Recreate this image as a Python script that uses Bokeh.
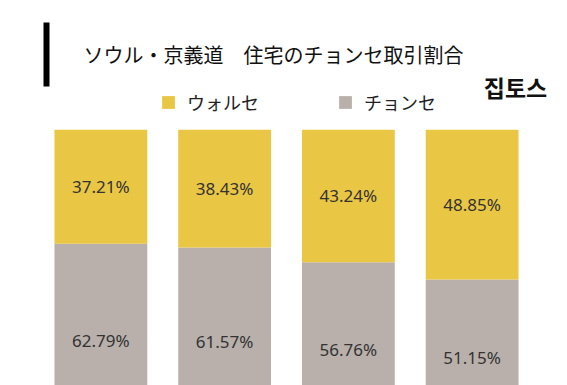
from bokeh.plotting import figure
from bokeh.layouts import column
from bokeh.models import ColumnDataSource, Range1d, FactorRange, Legend, LegendItem, Label
from bokeh.core.properties import value
from bokeh.embed import file_html
from bokeh.resources import INLINE

# ---- data ----
periods = ["1", "2", "3", "4"]
wolse = [37.21, 38.43, 43.24, 48.85]      # ウォルセ share, %
jeonse = [62.79, 61.57, 56.76, 51.15]     # チョンセ share, %
series_names = ["ウォルセ", "チョンセ"]
title_text = "ソウル・京義道　住宅のチョンセ取引割合"
logo_text = "집토스"

YELLOW = "#EAC645"
GRAY = "#B9B0AB"
W = 567
HEAD_H = 129
BAR_H = 385 - HEAD_H
ML, MR = 5, 0

# ---- header ----
hf = figure(width=W, height=HEAD_H, x_range=Range1d(ML, W - MR), y_range=Range1d(HEAD_H, 0),
            x_axis_type=None, y_axis_type=None, toolbar_location=None,
            output_backend="svg", min_border_left=ML, min_border_right=MR,
            min_border_top=0, min_border_bottom=0, outline_line_color=None)
hf.grid.visible = False
hf.quad(left=[43], right=[49], top=[22], bottom=[86], fill_color="black", line_color=None)
hf.text(x=[83], y=[54], text=[title_text], text_font=value("Noto Sans CJK JP"),
        text_font_size="20px", text_baseline="middle", text_align="left", text_color="#111111")
hf.add_layout(Label(x=515, y=86, text=logo_text, text_font="Noto Sans CJK KR",
                    text_font_size="23px", text_font_style="bold", text_baseline="middle",
                    text_align="center", text_color="#111111"))
# legend swatches (kept outside the visible area; only their legend glyphs show)
r_w = hf.quad(left=[-100], right=[-90], top=[-100], bottom=[-90], fill_color=YELLOW, line_color=None)
r_j = hf.quad(left=[-100], right=[-90], top=[-100], bottom=[-90], fill_color=GRAY, line_color=None)
legend = Legend(items=[LegendItem(label=series_names[0], renderers=[r_w]),
                       LegendItem(label=series_names[1], renderers=[r_j])],
                orientation="horizontal", location=(155, 14),
                glyph_width=16, glyph_height=16, label_standoff=11, spacing=78,
                padding=0, margin=0, border_line_color=None, background_fill_alpha=0,
                label_text_font="Noto Sans CJK JP", label_text_font_size="18px",
                label_text_color="#222222")
hf.add_layout(legend, "center")

# ---- bars ----
src = ColumnDataSource(dict(
    periods=periods, wolse=wolse, jeonse=jeonse,
    wolse_mid=[j + w / 2 for j, w in zip(jeonse, wolse)],
    jeonse_mid=[j / 2 for j in jeonse],
    wolse_lbl=[f"{v:.2f}%" for v in wolse],
    jeonse_lbl=[f"{v:.2f}%" for v in jeonse],
))
p = figure(width=W, height=BAR_H,
           x_range=FactorRange(factors=periods, range_padding=0.1354),
           y_range=Range1d(16.6, 100), x_axis_type=None, y_axis_type=None,
           toolbar_location=None, output_backend="svg",
           min_border_left=ML, min_border_right=MR, min_border_top=0, min_border_bottom=0,
           outline_line_color=None)
p.grid.visible = False
p.vbar_stack(["jeonse", "wolse"], x="periods", width=0.75, source=src,
             color=[GRAY, YELLOW], line_color=None)
p.text(x="periods", y="wolse_mid", text="wolse_lbl", source=src, text_align="center",
       text_baseline="middle", text_font=value("Noto Sans"), text_font_size="17px",
       text_color="#333333")
p.text(x="periods", y="jeonse_mid", text="jeonse_lbl", source=src, text_align="center",
       text_baseline="middle", text_font=value("Noto Sans"), text_font_size="17px",
       text_color="#333333")

layout = column(hf, p, spacing=0)
open("out.html", "w").write(file_html(layout, INLINE))
